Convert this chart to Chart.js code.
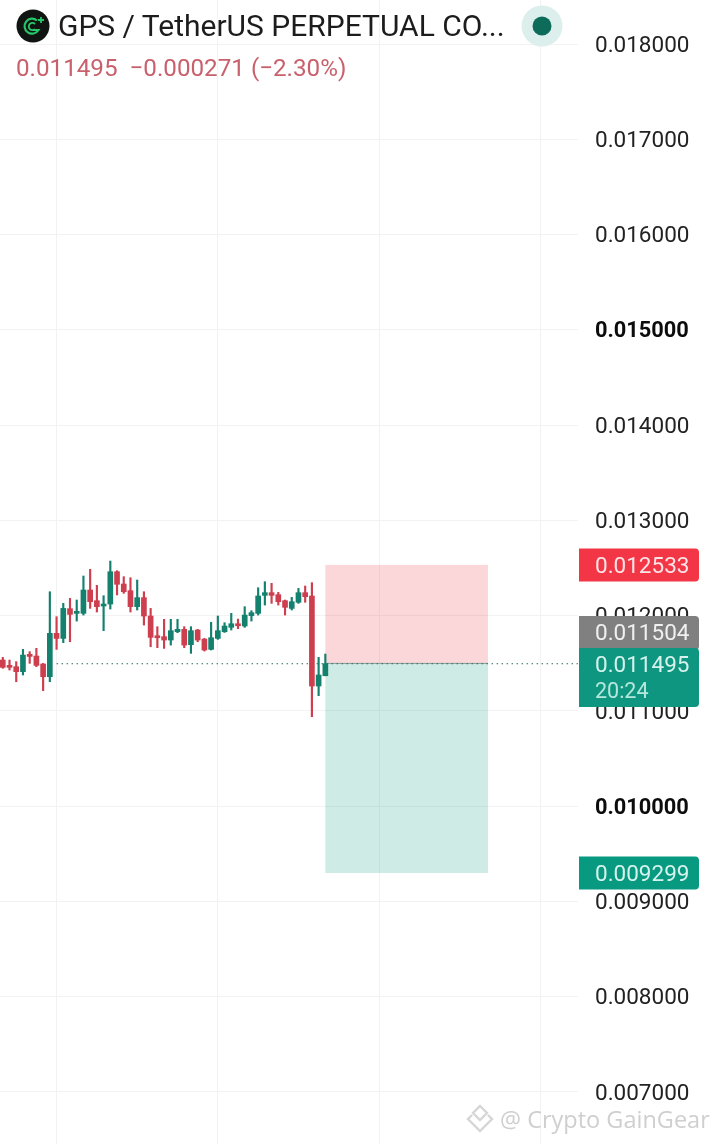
<!DOCTYPE html>
<html lang="en">
<head>
  <meta charset="UTF-8" />
  <title>GPS / TetherUS PERPETUAL</title>
  <script src="https://cdn.jsdelivr.net/npm/chart.js"></script>
  <style>
    html, body { margin: 0; padding: 0; background: #fff; font-family: Roboto, sans-serif; }
    #wrap { position: relative; width: 720px; height: 1144px; overflow: hidden; }
    canvas { position: absolute; left: 0; top: 0; }
    .abs { position: absolute; white-space: nowrap; }
    #title { left: 58px; top: 9px; font-size: 30px; line-height: 34px; color: #1c1c1c; }
    #quote { left: 16px; top: 53px; font-size: 24.2px; line-height: 30px; color: #c8616c; }
    #mark { left: 500px; top: 1104px; font-family: "Open Sans", sans-serif; font-size: 23.5px; line-height: 30px; color: #cfcfcf; }
  </style>
</head>
<body>
  <div id="wrap">
    <canvas id="chart" width="720" height="1144"></canvas>
    <svg class="abs" style="left:16px;top:9px" width="36" height="36" viewBox="0 0 36 36">
      <circle cx="17" cy="17" r="16.5" fill="#101512"/>
      <path d="M21 11.5a7.5 7.5 0 1 0 1.5 9.5h-6" fill="none" stroke="#27c66a" stroke-width="2.2"/>
      <path d="M19 15a3.6 3.6 0 1 0 0 5" fill="none" stroke="#27c66a" stroke-width="1.8"/>
      <path d="M25 8v6M22 11h6" stroke="#27c66a" stroke-width="1.8"/>
    </svg>
    <div class="abs" id="title">GPS / TetherUS PERPETUAL CO...</div>
    <div class="abs" id="quote">0.011495&nbsp; −0.000271 (−2.30%)</div>
    <svg class="abs" style="left:521px;top:5px" width="42" height="42" viewBox="0 0 42 42">
      <circle cx="21" cy="21" r="20.5" fill="#dcefed"/>
      <circle cx="21" cy="21" r="9.5" fill="#0c6b59"/>
    </svg>
    <svg class="abs" style="left:465px;top:1103px" width="30" height="30" viewBox="0 0 30 30">
      <g fill="none" stroke="#d6d6d6" stroke-width="2.4">
        <path d="M15 3l7 7-7 7-7-7z"/>
        <path d="M7 12l-4 4 12 12 12-12-4-4"/>
      </g>
    </svg>
    <div class="abs" id="mark">@ Crypto GainGear</div>
  </div>

  <script>
    const opens = [0.011534,0.011471,0.011464,0.011412,0.011594,0.011576,0.011492,0.011359,0.011814,0.011761,0.012073,0.012024,0.012024,0.012269,0.012157,0.012101,0.012122,0.012461,0.012332,0.012262,0.012094,0.012189,0.011996,0.011782,0.011779,0.011744,0.011831,0.011856,0.011695,0.011849,0.011754,0.011646,0.011761,0.011831,0.011877,0.011915,0.011891,0.012000,0.012024,0.012213,0.012241,0.012220,0.012157,0.012076,0.012140,0.012241,0.012206,0.011261,0.011369];
    const closes = [0.011457,0.011457,0.011412,0.011586,0.011572,0.011478,0.011359,0.011814,0.011761,0.012076,0.012013,0.012038,0.012269,0.012146,0.012094,0.012122,0.012461,0.012329,0.012251,0.012094,0.012189,0.011996,0.011772,0.011768,0.011744,0.011842,0.011856,0.011691,0.011842,0.011744,0.011639,0.011768,0.011842,0.011891,0.011915,0.011894,0.012006,0.012031,0.012206,0.012241,0.012213,0.012146,0.012087,0.012146,0.012241,0.012199,0.011261,0.011377,0.011495];
    const highs = [0.011562,0.011534,0.011517,0.011646,0.011622,0.011657,0.011499,0.012251,0.011989,0.012129,0.012181,0.012164,0.012416,0.012486,0.012318,0.012209,0.012573,0.012472,0.012409,0.012398,0.012374,0.012251,0.012076,0.011884,0.011961,0.011961,0.011961,0.011884,0.011884,0.011856,0.011761,0.011930,0.011996,0.011926,0.012024,0.011964,0.012094,0.012052,0.012293,0.012356,0.012339,0.012245,0.012164,0.012192,0.012286,0.012311,0.012346,0.011562,0.011597];
    const lows = [0.011447,0.011429,0.011306,0.011377,0.011499,0.011464,0.011212,0.011306,0.011646,0.011716,0.011726,0.011943,0.012006,0.012076,0.012038,0.011842,0.012069,0.012217,0.012234,0.012038,0.012059,0.011901,0.011674,0.011664,0.011656,0.011691,0.011821,0.011664,0.011604,0.011726,0.011628,0.011639,0.011751,0.011824,0.011849,0.011863,0.011877,0.011943,0.012006,0.012111,0.012129,0.012111,0.012006,0.012059,0.012129,0.012140,0.010939,0.011160,0.011369];

    const yTicks = [0.018,0.017,0.016,0.015,0.014,0.013,0.012,0.011,0.01,0.009,0.008,0.007];
    const boldTicks = [0.015,0.01];
    const xGrid = [8,32,56,80];

    const lastPrice = 0.011495;
    const entryPrice = 0.011504;
    const stopPrice = 0.012533;
    const targetPrice = 0.009299;
    const toolStart = 48;
    const toolEnd = 72.2;

    const RED = "#cd3e4e";
    const GREEN = "#14806e";
    const barColors = opens.map((o, i) => closes[i] >= o ? GREEN : RED);

    function roundedTag(ctx, x, y, w, h) {
      ctx.beginPath();
      ctx.roundRect(x, y, w, h, [0, 4, 4, 0]);
      ctx.fill();
    }

    // no room kept around the plot, it fills the whole page
    function noMargins(s) {
      s.paddingTop = s.paddingBottom = s.paddingLeft = s.paddingRight = 0;
    }

    // long position box sits under the candles
    const positionBox = {
      id: "positionBox",
      beforeDatasetsDraw(chart) {
        const { ctx, scales: { x, y } } = chart;
        const left = x.getPixelForValue(toolStart);
        const right = x.getPixelForValue(toolEnd);
        const mid = y.getPixelForValue(entryPrice);
        ctx.save();
        ctx.fillStyle = "rgba(242,54,69,0.2)";
        ctx.fillRect(left, y.getPixelForValue(stopPrice), right - left, mid - y.getPixelForValue(stopPrice));
        ctx.fillStyle = "rgba(8,153,129,0.2)";
        ctx.fillRect(left, mid, right - left, y.getPixelForValue(targetPrice) - mid);
        ctx.fillStyle = "#8a9a96";
        ctx.fillRect(left, mid, right - left, 1);
        ctx.restore();
      }
    };

    // price tags on the right axis
    const priceTags = {
      id: "priceTags",
      afterDraw(chart) {
        const { ctx, scales: { y } } = chart;
        const fmt = v => v.toFixed(6);
        ctx.save();
        ctx.font = "22.5px Roboto";
        ctx.textBaseline = "middle";
        ctx.textAlign = "left";
        const tag = (value, color, textColor) => {
          const py = Math.round(y.getPixelForValue(value));
          ctx.fillStyle = color;
          roundedTag(ctx, 579, py - 16.5, 120, 33);
          ctx.fillStyle = textColor;
          ctx.fillText(fmt(value), 595, py + 2.5);
        };
        tag(stopPrice, "#f23645", "#fde4e6");
        tag(targetPrice, "#089981", "#d5f3ec");
        const pe = Math.round(y.getPixelForValue(entryPrice));
        ctx.fillStyle = "#808080";
        roundedTag(ctx, 579, pe - 47, 120, 34);
        ctx.fillStyle = "#f0f0f0";
        ctx.fillText(fmt(entryPrice), 595, pe - 29);
        ctx.fillStyle = "#0f9680";
        roundedTag(ctx, 579, pe - 15, 120, 59);
        ctx.fillStyle = "#d5f3ec";
        ctx.fillText(fmt(lastPrice), 595, pe + 3);
        ctx.fillStyle = "#b4e8dc";
        ctx.font = "21.5px Roboto";
        ctx.fillText("20:24", 595, pe + 30);
        ctx.restore();
      }
    };

    new Chart(document.getElementById("chart").getContext("2d"), {
      type: "bar",
      data: {
        datasets: [
          {
            type: "line",
            data: [{ x: 8, y: lastPrice }, { x: 85.6, y: lastPrice }],
            borderColor: "#2f6b60",
            borderWidth: 1,
            borderDash: [1.5, 3.5],
            pointRadius: 0,
            order: 3
          },
          {
            data: highs.map((h, i) => ({ x: i, y: [lows[i], h] })),
            backgroundColor: barColors,
            barThickness: 1.5,
            grouped: false,
            order: 2
          },
          {
            data: opens.map((o, i) => ({ x: i, y: [o, closes[i]] })),
            backgroundColor: barColors,
            barThickness: 5,
            minBarLength: 2,
            grouped: false,
            order: 1
          }
        ]
      },
      options: {
        responsive: false,
        animation: false,
        events: [],
        layout: { padding: 0 },
        plugins: { legend: { display: false }, tooltip: { enabled: false } },
        scales: {
          x: {
            type: "linear",
            offset: false,
            min: -0.417,
            max: 85.6,
            afterBuildTicks: s => { s.ticks = xGrid.map(v => ({ value: v })); },
            afterFit: s => { s.height = 0; noMargins(s); },
            ticks: { display: false },
            grid: { offset: false, color: "#f2f2f2", lineWidth: 1, drawTicks: false },
            border: { display: false }
          },
          y: {
            position: "right",
            min: 0.006454,
            max: 0.018462,
            afterBuildTicks: s => { s.ticks = yTicks.map(v => ({ value: v })); },
            afterFit: s => { s.width = 142; noMargins(s); },
            ticks: {
              padding: 17,
              labelOffset: 2,
              color: c => c.tick && boldTicks.includes(c.tick.value) ? "#0c0c0c" : "#222222",
              font: c => {
                const bold = c.tick && boldTicks.includes(c.tick.value);
                return { family: "Roboto", size: bold ? 21.8 : 22.5, weight: bold ? "bold" : "normal" };
              },
              callback: v => v.toFixed(6)
            },
            grid: { color: "#f2f2f2", lineWidth: 1, drawTicks: false },
            border: { display: false }
          }
        }
      },
      plugins: [positionBox, priceTags]
    });
  </script>
</body>
</html>
